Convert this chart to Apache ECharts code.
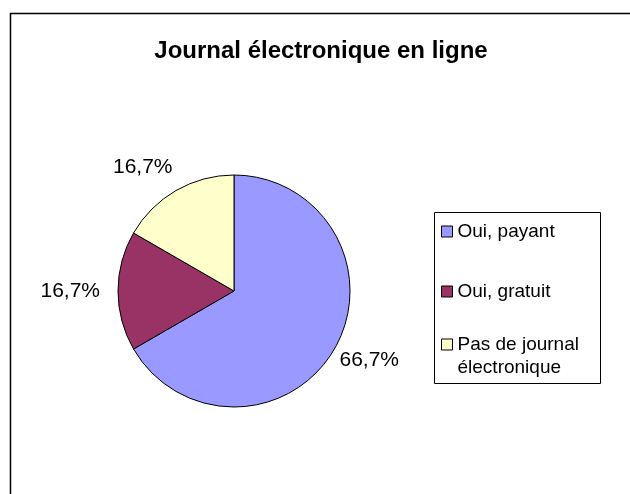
<!DOCTYPE html>
<html>
<head>
<meta charset="utf-8">
<script src="https://cdn.jsdelivr.net/npm/echarts@6/dist/echarts.min.js"></script>
<style>
  html, body { margin: 0; padding: 0; background: #fff; }
  #chart { width: 630px; height: 494px; }
</style>
</head>
<body>
<div id="chart"></div>
<script>
    // données
    var categories = ['Oui, payant', 'Oui, gratuit', 'Pas de journal\nélectronique'];
    var values = [4, 1, 1];
    var colors = ['#9999FF', '#993366', '#FFFFCC'];

    var total = values.reduce(function (a, b) { return a + b }, 0);
    var font = 'Arial, "Liberation Sans", sans-serif';

    // placement des étiquettes : longueur du trait caché puis petit décalage
    var labelLen = [0, 18, 15];
    var labelDx = [5, 0, 4];
    var labelDy = [11, 0, -10];

    var chart = echarts.init(document.getElementById('chart'));

    // une légende par entrée, pour placer chaque ligne comme dans Excel
    // (ligne vide en tête du nom sur deux lignes : la case reste en face de la 1re ligne)
    var legendTops = [220, 280, 310];
    var legends = categories.map(function (name, i) {
        var multi = name.indexOf('\n') >= 0;
        return {
            left: 441,
            top: legendTops[i],
            padding: 0,
            orient: 'vertical',
            icon: 'rect',
            itemWidth: 11,
            itemHeight: 11,
            itemGap: 0,
            itemTextGap: 5,
            selectedMode: false,
            itemStyle: {borderColor: '#000', borderWidth: 1},
            formatter: function (n) {
                return multi ? ' \n' + n : n;
            },
            textStyle: {
                fontFamily: font,
                fontSize: 19,
                color: '#000',
                lineHeight: 23
            },
            data: [name]
        }
    });

    chart.setOption({
        backgroundColor: '#fff',
        animation: false,
        color: colors,
        title: {
            text: 'Journal électronique en ligne',
            left: 316,
            top: 34,
            textAlign: 'center',
            textStyle: {fontFamily: font, fontSize: 24, fontWeight: 'bold', color: '#000'}
        },
        legend: legends,
        graphic: [
            {
                type: 'rect',
                shape: {x: 10.5, y: 13.5, width: 700, height: 600},
                style: {fill: null, stroke: '#000', lineWidth: 1.5},
                silent: true
            },
            {
                type: 'rect',
                shape: {x: 434.5, y: 212.5, width: 166, height: 171},
                style: {fill: null, stroke: '#000', lineWidth: 1},
                silent: true
            }
        ],
        series: [
            {
                type: 'pie',
                center: [234, 291],
                radius: 116,
                startAngle: 90,
                clockwise: true,
                avoidLabelOverlap: false,
                itemStyle: {borderColor: '#000', borderWidth: 1},
                label: {
                    show: true,
                    position: 'outside',
                    fontFamily: font,
                    fontSize: 21,
                    color: '#000',
                    distanceToLabelLine: 0,
                    formatter: function (p) {
                        return (p.value / total * 100).toFixed(1).replace('.', ',') + '%';
                    }
                },
                labelLine: {show: false, length: 12, length2: 0},
                labelLayout: function (params) {
                    return {dx: labelDx[params.dataIndex], dy: labelDy[params.dataIndex]};
                },
                emphasis: {disabled: true},
                data: categories.map(function (name, i) {
                    return {
                        name: name,
                        value: values[i],
                        labelLine: {show: false, length: labelLen[i], length2: 0}
                    };
                })
            }
        ]
    });
</script>
</body>
</html>
